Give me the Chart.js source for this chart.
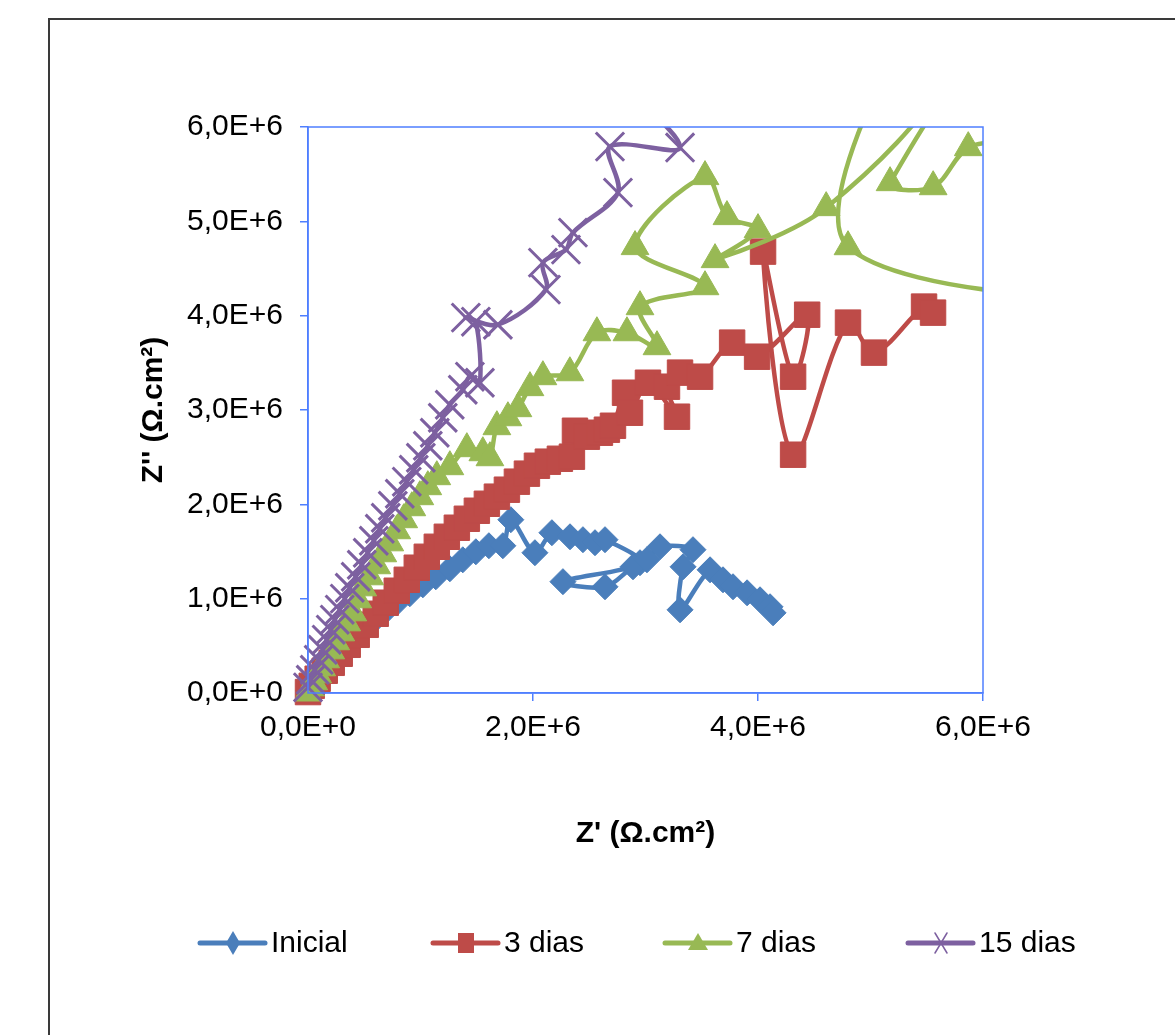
<!DOCTYPE html>
<html>
<head>
<meta charset="utf-8">
<script src="https://cdn.jsdelivr.net/npm/chart.js@4.4.0/dist/chart.umd.min.js"></script>
<style>
  html, body { margin: 0; padding: 0; background: #fff; }
  #wrap { width: 1175px; height: 1035px; position: relative; }
</style>
</head>
<body>
<div id="wrap"><canvas id="c"></canvas></div>
<script>
// Z' and Z'', in units of 1E+6 ohm.cm2
const seriesNames = ['Inicial', '3 dias', '7 dias', '15 dias'];

const inicialZr = [0.006, 0.033, 0.069, 0.113, 0.166, 0.229, 0.300, 0.380, 0.469, 0.567, 0.674, 0.789, 0.905, 1.021, 1.136, 1.261, 1.376, 1.492, 1.608, 1.732, 1.803,
  2.017, 2.168, 2.329, 2.444, 2.551, 2.640, 2.951, 2.266, 2.640, 2.889, 3.013, 3.129, 3.422, 3.334, 3.307, 3.574, 3.689, 3.778, 3.903, 4.018, 4.107, 4.134];
const inicialZi = [0.023, 0.066, 0.119, 0.182, 0.256, 0.341, 0.437, 0.532, 0.638, 0.744, 0.850, 0.956, 1.052, 1.147, 1.232, 1.317, 1.412, 1.497, 1.561, 1.561, 1.837,
  1.487, 1.699, 1.656, 1.625, 1.593, 1.625, 1.381, 1.180, 1.126, 1.338, 1.412, 1.550, 1.519, 1.338, 0.882, 1.306, 1.200, 1.126, 1.062, 0.988, 0.914, 0.850];

const dias3Zr = [0.00, 0.033, 0.086, 0.149, 0.211, 0.282, 0.353, 0.433, 0.513, 0.602, 0.691, 0.789, 0.878, 0.967, 1.056, 1.145, 1.234, 1.323, 1.412, 1.501, 1.590,
  1.679, 1.768, 1.857, 1.946, 2.035, 2.132, 2.239, 2.346, 2.373, 2.479, 2.595, 2.657, 2.711, 2.818, 2.862, 3.022, 3.280, 3.191, 3.307, 3.485, 3.770, 3.992,
  4.437, 4.312, 4.045, 4.312, 4.800, 5.031, 5.476, 5.556];
const dias3Zi = [0.01, 0.076, 0.151, 0.236, 0.320, 0.416, 0.511, 0.617, 0.723, 0.840, 0.957, 1.084, 1.200, 1.328, 1.444, 1.550, 1.656, 1.752, 1.847, 1.932, 2.006,
  2.081, 2.155, 2.240, 2.325, 2.409, 2.452, 2.483, 2.505, 2.780, 2.717, 2.759, 2.791, 2.833, 3.183, 2.971, 3.289, 2.929, 3.247, 3.396, 3.353, 3.714, 3.565,
  4.010, 3.353, 4.679, 2.526, 3.926, 3.608, 4.096, 4.032];

// a few low-frequency points of the 7 and 15 day curves fall outside the 6E+6 axes
const dias7Zr = [0.00, 0.024, 0.051, 0.086, 0.122, 0.157, 0.202, 0.246, 0.291, 0.344, 0.398, 0.442, 0.487, 0.549, 0.611, 0.665, 0.727, 0.789, 0.851, 0.923, 0.994,
  1.065, 1.145, 1.261, 1.412, 1.554, 1.617, 1.679, 1.777, 1.866, 1.973, 2.088, 2.328, 2.568, 2.835, 3.102, 2.951, 3.529, 2.907, 3.529, 3.724, 4.000, 3.618,
  4.606, 5.7, 5.4, 4.800, 7.8, 6.4, 5.174, 5.557, 5.869, 6.3];
const dias7Zi = [0.00, 0.055, 0.119, 0.193, 0.267, 0.352, 0.447, 0.543, 0.638, 0.744, 0.850, 0.988, 1.115, 1.232, 1.349, 1.476, 1.592, 1.720, 1.837, 1.964, 2.081,
  2.187, 2.293, 2.399, 2.590, 2.547, 2.494, 2.823, 2.918, 3.014, 3.237, 3.353, 3.395, 3.819, 3.819, 3.671, 4.095, 4.307, 4.732, 5.474, 5.050, 4.912, 4.594,
  5.145, 6.6, 7.2, 4.731, 4.45, 7.1, 5.410, 5.367, 5.781, 5.85];

const dias15Zr = [0.00, 0.024, 0.060, 0.095, 0.131, 0.166, 0.202, 0.238, 0.282, 0.327, 0.371, 0.424, 0.478, 0.531, 0.585, 0.638, 0.691, 0.754, 0.816, 0.878,
  0.940, 1.003, 1.065, 1.127, 1.198, 1.260, 1.376, 1.439, 1.528, 1.492, 1.403, 1.688, 2.115, 2.088, 2.293, 2.355, 2.755, 2.684, 3.307, 2.75];
const dias15Zi = [0.06, 0.140, 0.246, 0.352, 0.458, 0.565, 0.671, 0.777, 0.883, 1.000, 1.116, 1.232, 1.360, 1.487, 1.614, 1.741, 1.858, 1.985, 2.112, 2.240,
  2.367, 2.494, 2.621, 2.759, 2.918, 3.056, 3.215, 3.353, 3.289, 3.936, 3.979, 3.904, 4.276, 4.562, 4.700, 4.880, 5.304, 5.792, 5.782, 6.5];

const xTickValues = [0, 2, 4, 6];
const xTickLabels = ['0,0E+0', '2,0E+6', '4,0E+6', '6,0E+6'];
const yTickValues = [0, 1, 2, 3, 4, 5, 6];
const yTickLabels = ['0,0E+0', '1,0E+6', '2,0E+6', '3,0E+6', '4,0E+6', '5,0E+6', '6,0E+6'];

const AXIS = '#4f7fff';
const FONT = "'Liberation Sans', Arial, sans-serif";

function pts(xs, ys) {
  return xs.map((x, i) => ({ x: x * 1e6, y: ys[i] * 1e6 }));
}

const styles = [
  { color: '#4a7ebb', point: 'rectRot', r: 13, bw: 1, order: 4 },
  { color: '#be4b48', point: 'rect', r: 18, bw: 1, order: 3 },
  { color: '#98b954', point: 'triangle', r: 16, bw: 1, order: 2 },
  { color: '#7d60a0', point: 'crossRot', r: 20, bw: 3, order: 1 }
];
const allData = [pts(inicialZr, inicialZi), pts(dias3Zr, dias3Zi), pts(dias7Zr, dias7Zi), pts(dias15Zr, dias15Zi)];

const datasets = allData.map((d, i) => ({
  label: seriesNames[i],
  data: d,
  showLine: true,
  tension: 0.33,
  borderColor: styles[i].color,
  backgroundColor: styles[i].color,
  borderWidth: 4.5,
  pointStyle: styles[i].point,
  pointRadius: styles[i].r,
  pointBorderWidth: styles[i].bw,
  pointBackgroundColor: styles[i].color,
  pointBorderColor: styles[i].color,
  order: styles[i].order,
  clip: { left: 30, top: 0, right: 0, bottom: 30 }
}));

function drawMarker(ctx, style, x, y, r, color) {
  ctx.save();
  ctx.fillStyle = color;
  ctx.strokeStyle = color;
  ctx.beginPath();
  if (style === 'rectRot') {
    ctx.moveTo(x, y - r * 1.2); ctx.lineTo(x + r * 0.7, y); ctx.lineTo(x, y + r * 1.2); ctx.lineTo(x - r * 0.7, y);
    ctx.closePath(); ctx.fill();
  } else if (style === 'rect') {
    ctx.rect(x - r * 0.8, y - r, r * 1.6, r * 2); ctx.fill();
  } else if (style === 'triangle') {
    ctx.moveTo(x, y - r); ctx.lineTo(x + r, y + r * 0.7); ctx.lineTo(x - r, y + r * 0.7);
    ctx.closePath(); ctx.fill();
  } else {
    ctx.lineWidth = 1.5;
    ctx.moveTo(x - r * 0.6, y - r); ctx.lineTo(x + r * 0.6, y + r);
    ctx.moveTo(x + r * 0.6, y - r); ctx.lineTo(x - r * 0.6, y + r);
    ctx.stroke();
  }
  ctx.restore();
}

const decor = {
  id: 'decor',
  beforeDraw(chart) {
    const ctx = chart.ctx;
    ctx.save();
    ctx.fillStyle = '#fff';
    ctx.fillRect(0, 0, chart.width, chart.height);
    ctx.strokeStyle = '#3a3a3a';
    ctx.lineWidth = 2;
    ctx.beginPath();
    ctx.moveTo(49, chart.height + 5);
    ctx.lineTo(49, 19);
    ctx.lineTo(chart.width + 5, 19);
    ctx.stroke();
    ctx.restore();
  },
  afterDraw(chart) {
    const ctx = chart.ctx;
    const a = chart.chartArea;
    ctx.save();
    ctx.strokeStyle = AXIS;
    ctx.lineWidth = 1.5;
    ctx.strokeRect(a.left, a.top, a.right - a.left, a.bottom - a.top);
    // legend
    const lx = [200, 433, 665, 908];
    const ly = 943;
    ctx.font = '30px ' + FONT;
    ctx.textBaseline = 'middle';
    ctx.fillStyle = '#000';
    seriesNames.forEach((name, i) => {
      const c = styles[i].color;
      ctx.strokeStyle = c;
      ctx.lineWidth = 5;
      ctx.lineCap = 'round';
      ctx.beginPath();
      ctx.moveTo(lx[i], ly);
      ctx.lineTo(lx[i] + 65, ly);
      ctx.stroke();
      drawMarker(ctx, styles[i].point, lx[i] + 33, ly, 10, c);
      ctx.fillStyle = '#000';
      ctx.fillText(name, lx[i] + 71, ly + 1);
    });
    ctx.restore();
  }
};

new Chart(document.getElementById('c'), {
  type: 'scatter',
  data: { datasets: datasets },
  options: {
    responsive: true,
    maintainAspectRatio: false,
    animation: false,
    events: [],
    layout: { padding: { left: 0, right: 192, top: 127, bottom: 142 } },
    plugins: { legend: { display: false }, tooltip: { enabled: false } },
    scales: {
      x: {
        type: 'linear',
        min: 0,
        max: 6e6,
        afterFit(scale) { scale.height = 200; },
        afterBuildTicks(scale) { scale.ticks = xTickValues.map(v => ({ value: v * 1e6 })); },
        border: { color: AXIS, width: 1.5 },
        grid: { drawOnChartArea: false, drawTicks: true, tickLength: 8, color: AXIS, lineWidth: 1.5 },
        ticks: {
          color: '#000',
          padding: 9,
          maxRotation: 0,
          font: { family: FONT, size: 30 },
          callback: (v, i) => xTickLabels[i]
        },
        title: {
          display: true,
          text: "Z' (\u03A9.cm\u00B2)",
          color: '#000',
          font: { family: FONT, size: 30, weight: 'bold' },
          padding: { top: 0, bottom: 41 }
        }
      },
      y: {
        type: 'linear',
        min: 0,
        max: 6e6,
        afterFit(scale) { scale.width = 308; },
        afterBuildTicks(scale) { scale.ticks = yTickValues.map(v => ({ value: v * 1e6 })); },
        border: { color: AXIS, width: 1.5 },
        grid: { drawOnChartArea: false, drawTicks: true, tickLength: 8, color: AXIS, lineWidth: 1.5 },
        ticks: {
          color: '#000',
          padding: 17,
          font: { family: FONT, size: 30 },
          callback: (v, i) => yTickLabels[i]
        },
        title: {
          display: true,
          text: "Z'' (\u03A9.cm\u00B2)",
          color: '#000',
          font: { family: FONT, size: 30, weight: 'bold' },
          padding: { top: 136, bottom: 0 }
        }
      }
    },
    elements: { line: { capBezierPoints: false } }
  },
  plugins: [decor]
});
</script>
</body>
</html>
